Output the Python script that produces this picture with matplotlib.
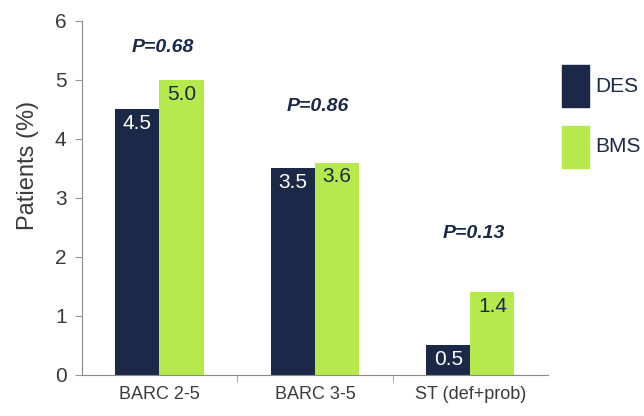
import numpy as np
import matplotlib.pyplot as plt
from matplotlib.patches import Rectangle

# data
categories = ['BARC 2-5', 'BARC 3-5', 'ST (def+prob)']
des = [4.5, 3.5, 0.5]
bms = [5.0, 3.6, 1.4]
p_labels = ['P=0.68', 'P=0.86', 'P=0.13']
p_heights = [5.55, 4.55, 2.4]

navy = '#1b2847'
lime = '#b6ea4c'
txt = '#3a3a3a'

plt.rcParams['font.family'] = ['Liberation Sans', 'DejaVu Sans']

fig = plt.figure(figsize=(6.44, 4.16), dpi=100)
ax = fig.add_axes([0.127, 0.0986, 0.724, 0.851])

x = np.arange(len(categories))
w = 0.284
ax.bar(x - w / 2, des, w, color=navy, label='DES')
ax.bar(x + w / 2, bms, w, color=lime, label='BMS')

for i in range(len(x)):
    ax.text(x[i] - w / 2, des[i] - 0.08, '%.1f' % des[i], ha='center', va='top',
            color='white', fontsize=15)
    ax.text(x[i] + w / 2, bms[i] - 0.08, '%.1f' % bms[i], ha='center', va='top',
            color=navy, fontsize=15)
    ax.text(x[i] + 0.02, p_heights[i], p_labels[i], ha='center', va='center',
            fontsize=14, fontweight='bold', fontstyle='italic', color=navy)

ax.set_xlim(-0.5, 2.5)
ax.set_ylim(0, 6)
ax.set_xticks(x)
ax.set_xticklabels(categories, fontsize=13, color=txt)
ax.set_xticks([0.5, 1.5], minor=True)
ax.tick_params(axis='x', which='major', length=0, pad=8)
ax.tick_params(axis='x', which='minor', length=5, color='#999999', direction='out')
ax.set_yticks(range(7))
ax.tick_params(axis='y', labelsize=15, labelcolor=txt, length=5, color='#999999', pad=6)
fig.text(28 / 644, 1 - 165 / 416, 'Patients (%)', rotation=90, ha='center', va='center',
         fontsize=17, color=txt)

for s in ['top', 'right']:
    ax.spines[s].set_visible(False)
for s in ['left', 'bottom']:
    ax.spines[s].set_color('#8a8a8a')

# legend drawn by hand so it sits where the slide has it
for lab, col, y0 in [('DES', navy, 107), ('BMS', lime, 168)]:
    fig.patches.append(Rectangle((562 / 644, 1 - y0 / 416), 27 / 644, 42 / 416,
                                 transform=fig.transFigure, color=col))
    fig.text(595 / 644, 1 - (y0 - 21) / 416, lab, ha='left', va='center',
             fontsize=15, color=navy)

fig.savefig('out.png', dpi=100)
